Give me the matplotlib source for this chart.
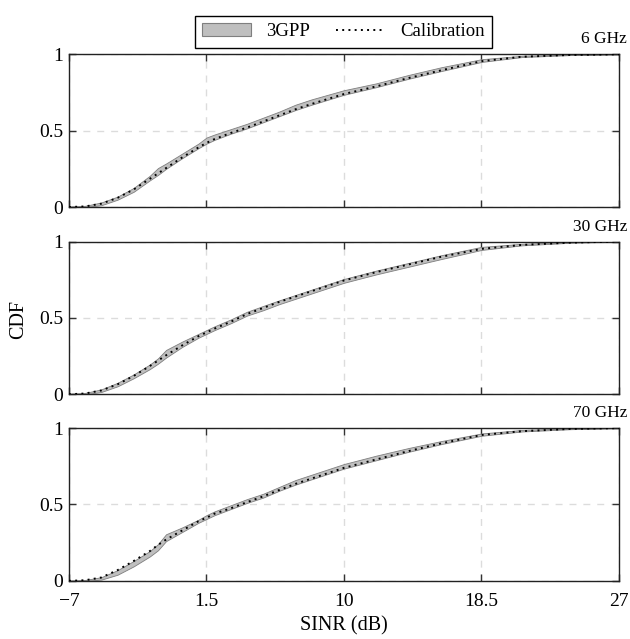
import matplotlib
matplotlib.use("Agg")
import matplotlib.pyplot as plt
from matplotlib.patches import Patch
from matplotlib.lines import Line2D

plt.rcParams['font.family'] = ['Liberation Serif', 'DejaVu Serif']

# SINR grid (dB) shared by all panels
sinr = [-7, -6, -5, -4, -3, -2, -1.5, -1, 0, 1, 1.5, 2, 3, 4, 5, 6, 7, 8,
        10, 12, 14, 16, 18.5, 21, 24, 27]

# 6 GHz
cal_6 = [0, 0.004, 0.022, 0.06, 0.115, 0.185, 0.22, 0.255, 0.325, 0.39, 0.42, 0.445,
         0.485, 0.52, 0.56, 0.60, 0.64, 0.675, 0.74, 0.79, 0.845, 0.895, 0.955, 0.984,
         0.996, 1.0]
gpp_lo_6 = [0, 0.0, 0.012, 0.048, 0.10, 0.175, 0.21, 0.25, 0.32, 0.385, 0.415, 0.44,
            0.48, 0.515, 0.555, 0.595, 0.635, 0.67, 0.735, 0.785, 0.84, 0.89, 0.95,
            0.982, 0.995, 1.0]
gpp_hi_6 = [0.003, 0.008, 0.03, 0.068, 0.125, 0.205, 0.255, 0.285, 0.35, 0.415, 0.455,
            0.475, 0.51, 0.545, 0.585, 0.625, 0.67, 0.705, 0.765, 0.81, 0.865, 0.915,
            0.968, 0.99, 0.999, 1.0]

# 30 GHz
cal_30 = [0, 0.005, 0.025, 0.065, 0.12, 0.185, 0.22, 0.255, 0.32, 0.38, 0.405, 0.43,
          0.475, 0.525, 0.565, 0.605, 0.64, 0.675, 0.745, 0.80, 0.85, 0.90, 0.952,
          0.978, 0.993, 1.0]
gpp_lo_30 = [0, 0.0, 0.015, 0.052, 0.105, 0.165, 0.20, 0.24, 0.31, 0.37, 0.395, 0.42,
             0.465, 0.515, 0.55, 0.59, 0.625, 0.66, 0.73, 0.785, 0.835, 0.885, 0.945,
             0.975, 0.992, 1.0]
gpp_hi_30 = [0.003, 0.009, 0.032, 0.075, 0.13, 0.195, 0.235, 0.29, 0.345, 0.395, 0.42,
             0.445, 0.49, 0.54, 0.578, 0.615, 0.65, 0.685, 0.755, 0.81, 0.86, 0.91,
             0.965, 0.985, 0.998, 1.0]

# 70 GHz
cal_70 = [0, 0.004, 0.022, 0.07, 0.13, 0.195, 0.235, 0.27, 0.33, 0.39, 0.413, 0.44,
          0.475, 0.515, 0.553, 0.595, 0.635, 0.67, 0.74, 0.795, 0.85, 0.90, 0.955,
          0.98, 0.995, 1.0]
gpp_lo_70 = [0, 0.0, 0.008, 0.04, 0.095, 0.16, 0.20, 0.26, 0.32, 0.38, 0.405, 0.43,
             0.47, 0.51, 0.545, 0.59, 0.63, 0.665, 0.735, 0.79, 0.845, 0.895, 0.95,
             0.978, 0.993, 1.0]
gpp_hi_70 = [0.002, 0.006, 0.024, 0.07, 0.13, 0.195, 0.24, 0.305, 0.35, 0.40, 0.43,
             0.455, 0.495, 0.535, 0.57, 0.615, 0.66, 0.695, 0.765, 0.82, 0.87, 0.915,
             0.965, 0.988, 0.998, 1.0]

panels = [("6 GHz", cal_6, gpp_lo_6, gpp_hi_6),
          ("30 GHz", cal_30, gpp_lo_30, gpp_hi_30),
          ("70 GHz", cal_70, gpp_lo_70, gpp_hi_70)]

xticks = [-7, 1.5, 10, 18.5, 27]
xticklabels = ["\u22127", "1.5", "10", "18.5", "27"]

fig = plt.figure(figsize=(6.3, 6.39), dpi=100)
bottoms = [0.676, 0.383, 0.091]

for (title, cal, lo, hi), b in zip(panels, bottoms):
    ax = fig.add_axes([0.1095, b, 0.873, 0.239])
    ax.fill_between(sinr, lo, hi, facecolor="#bfbfbf", edgecolor="#7f7f7f", lw=0.6, zorder=2)
    ax.plot(sinr, cal, color="black", ls=(0, (1, 2.2)), lw=1.4, zorder=3)
    ax.set_xlim(-7, 27)
    ax.set_ylim(0, 1)
    ax.set_xticks(xticks)
    ax.set_yticks([0, 0.5, 1])
    ax.set_yticklabels(["0", "0.5", "1"], fontsize=14)
    if b == bottoms[-1]:
        ax.set_xticklabels(xticklabels, fontsize=14)
        ax.set_xlabel("SINR (dB)", fontsize=14.5, labelpad=4)
    else:
        ax.set_xticklabels([])
    ax.grid(True, color="#dcdcdc", ls=(0, (5, 5)), lw=1)
    ax.tick_params(direction="in", length=5, width=1, color="#333333",
                   top=True, right=True, pad=4)
    ax.tick_params(axis="x", pad=9)
    for s in ax.spines.values():
        s.set_linewidth(1)
        s.set_color("#222222")
    ax.text(1.015, 1.045, title, transform=ax.transAxes, ha="right", va="bottom", fontsize=12.5)

fig.text(0.03, 0.5, "CDF", rotation=90, va="center", ha="center", fontsize=14.5)

handles = [Patch(facecolor="#bfbfbf", edgecolor="#7f7f7f", lw=0.8),
           Line2D([], [], color="black", ls=(0, (1, 2.2)), lw=1.4)]
fig.legend(handles, ["3GPP", "Calibration"], loc="upper center", bbox_to_anchor=(0.545, 0.99),
           ncol=2, frameon=True, fancybox=False, edgecolor="black", framealpha=1,
           fontsize=13.5, handlelength=2.6, columnspacing=1.4, borderpad=0.4)

fig.savefig("out.png", dpi=100)
